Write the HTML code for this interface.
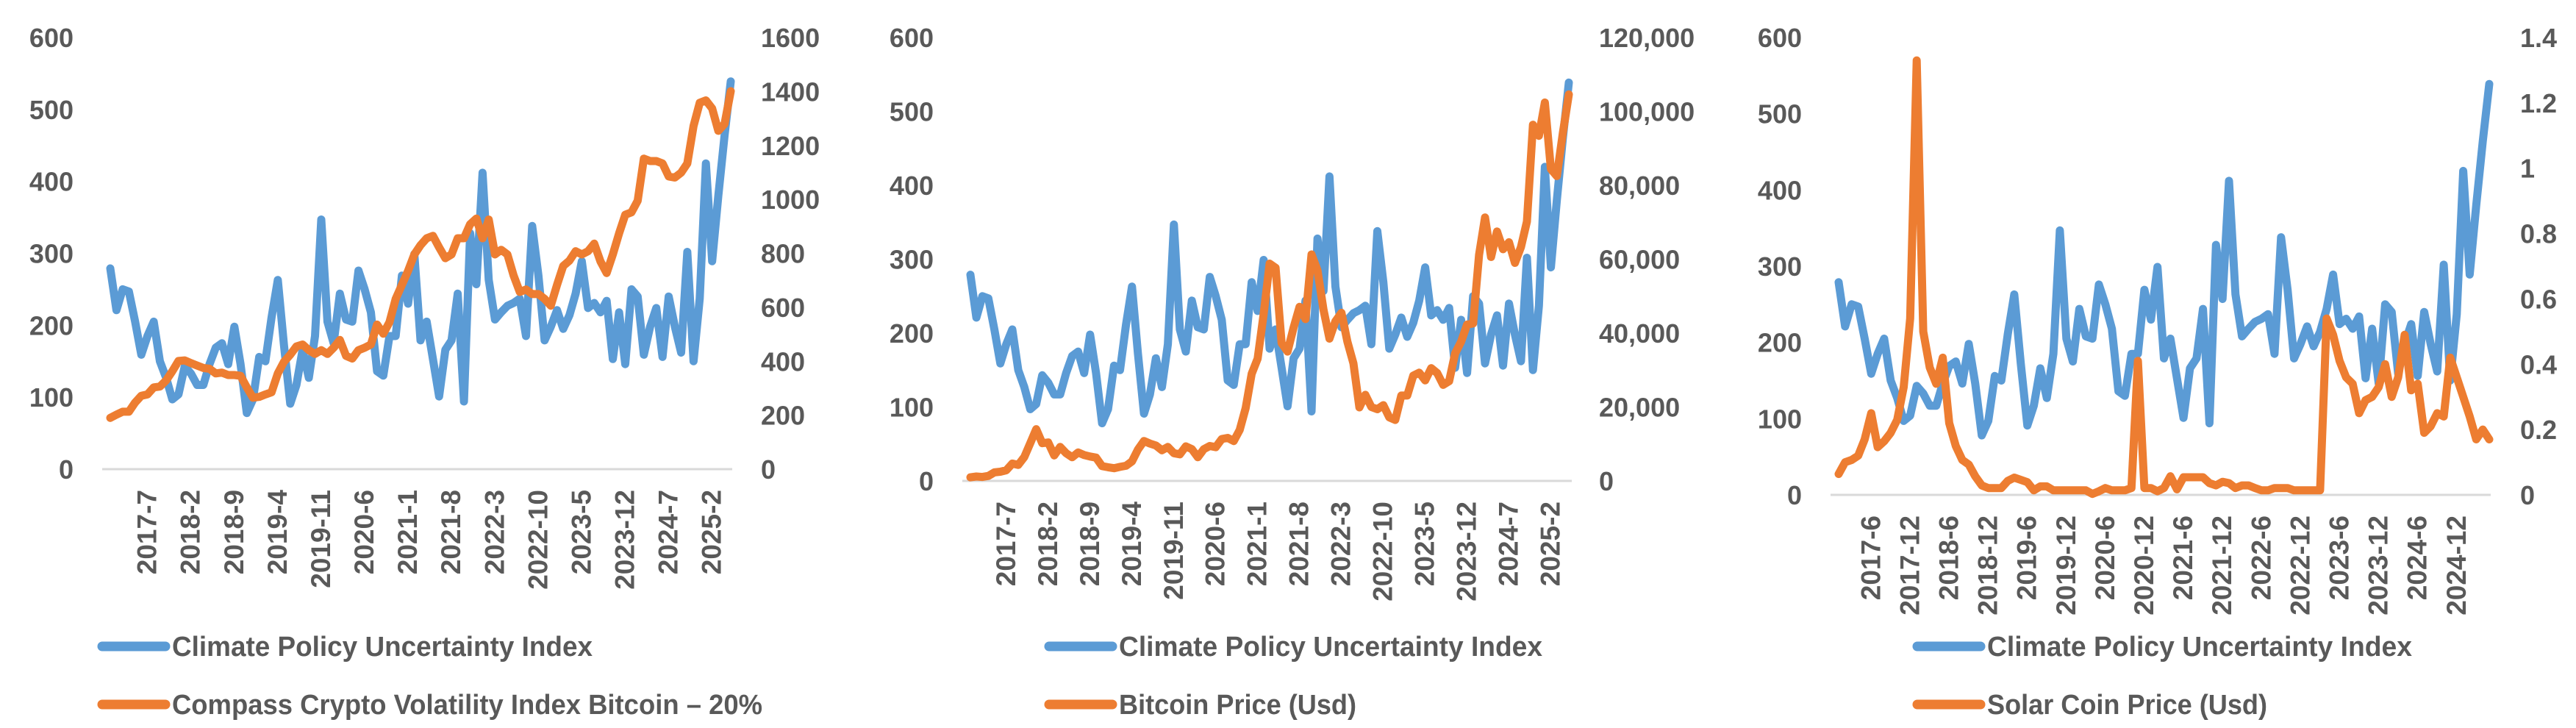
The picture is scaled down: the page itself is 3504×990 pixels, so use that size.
<!DOCTYPE html>
<html><head><meta charset="utf-8">
<style>
html,body{margin:0;padding:0;background:#fff;}
svg{display:block;}
text{font-family:"Liberation Sans",sans-serif;font-weight:bold;fill:#595959;}
</style></head>
<body>
<svg id="fig" width="3504" height="990" viewBox="0 0 3504 990" xmlns="http://www.w3.org/2000/svg"></svg>
<script>
const cpu=[279,221,250,247,205,159,185,205,150,127,97,104,143,133,117,117,146,169,175,146,198,146,78,97,156,150,211,263,172,91,117,166,127,185,347,205,175,244,208,205,276,250,218,136,130,185,185,269,230,299,179,205,153,101,166,179,244,94,328,257,412,263,208,218,227,231,237,185,338,269,179,198,221,195,214,244,289,224,231,218,234,153,218,146,250,240,159,198,224,156,240,198,162,302,150,237,425,289,380,464,539];
const ccv=[190,202,213,213,247,272,277,303,306,329,363,401,403,393,384,375,372,355,358,349,349,346,303,265,268,277,285,355,398,424,455,462,441,427,441,427,450,479,420,410,441,450,462,536,502,545,631,683,735,796,830,856,865,822,782,796,856,856,908,929,856,925,796,813,796,718,657,666,649,649,631,606,683,753,773,808,796,808,836,770,727,796,874,943,952,995,1151,1142,1142,1133,1085,1081,1099,1133,1272,1358,1367,1337,1254,1280,1401];
const btc=[970,1190,1080,1350,2300,2480,2880,4700,4340,6470,10200,14000,10200,10400,6900,9200,7500,6400,7700,7000,6600,6300,4000,3700,3450,3800,4100,5300,8500,10800,10100,9600,8300,9200,7500,7200,9350,8600,6400,8600,9450,9140,11350,11650,10780,13800,19700,29000,33100,45200,58800,57700,37300,35000,41500,47100,43800,61300,57000,46300,38500,43200,45500,37700,31800,19900,23300,20000,19400,20500,17200,16500,23100,23100,28500,29300,27200,30500,29200,26000,27000,34500,37700,42300,42600,61200,71300,60600,67500,62700,64600,59000,63300,70200,96400,93400,102400,84400,82500,94200,104600];
const slr=[0.064,0.10,0.107,0.12,0.17,0.25,0.146,0.164,0.19,0.23,0.33,0.54,1.33,0.50,0.39,0.34,0.42,0.22,0.15,0.107,0.093,0.057,0.029,0.021,0.021,0.021,0.043,0.053,0.046,0.039,0.014,0.026,0.026,0.014,0.014,0.014,0.014,0.014,0.014,0.003,0.011,0.021,0.014,0.014,0.014,0.021,0.41,0.021,0.021,0.011,0.021,0.057,0.017,0.054,0.054,0.054,0.054,0.036,0.029,0.04,0.036,0.021,0.029,0.029,0.021,0.014,0.014,0.021,0.021,0.021,0.014,0.014,0.014,0.014,0.014,0.54,0.49,0.41,0.36,0.34,0.25,0.29,0.30,0.33,0.40,0.30,0.36,0.49,0.32,0.34,0.19,0.21,0.25,0.24,0.42,0.36,0.30,0.24,0.17,0.20,0.17];
const leftTicks=[0,100,200,300,400,500,600];
const ticks1=[0,200,400,600,800,1000,1200,1400,1600];
const ticks2=[0,20000,40000,60000,80000,100000,120000];
const ticks3=[0,0.2,0.4,0.6,0.8,1,1.2,1.4];
const cats7=["2017-7","2018-2","2018-9","2019-4","2019-11","2020-6","2021-1","2021-8","2022-3","2022-10","2023-5","2023-12","2024-7","2025-2"];
const cats6=["2017-6","2017-12","2018-6","2018-12","2019-6","2019-12","2020-6","2020-12","2021-6","2021-12","2022-6","2022-12","2023-6","2023-12","2024-6","2024-12"];

const NS="http://www.w3.org/2000/svg";
const svg=document.getElementById('fig');
function mk(tag,attrs,parent){const e=document.createElementNS(NS,tag);for(const k in attrs)e.setAttribute(k,attrs[k]);(parent||svg).appendChild(e);return e;}

const charts=[
 {id:'chart-1',x0:150,dx:8.44,y0:638,yTop:51,axL:139,axR:996,lEnd:100,rStart:1035,rMax:1600,rTicks:ticks1,rFmt:v=>String(v),series2:ccv,cats:cats7,catStart:6,catStep:7,catTop:666,
  legX:133,legTextEnd1:806,legTextEnd2:1037,leg2:"Compass Crypto Volatility Index Bitcoin – 20%",s2name:'ccv-bitcoin-line'},
 {id:'chart-2',x0:1320,dx:8.14,y0:654,yTop:51,axL:1309,axR:2138,lEnd:1270,rStart:2175,rMax:120000,rTicks:ticks2,rFmt:v=>v.toLocaleString('en-US'),series2:btc,cats:cats7,catStart:6,catStep:7,catTop:682,
  legX:1421,legTextEnd1:2098,legTextEnd2:1845,leg2:"Bitcoin Price (Usd)",s2name:'bitcoin-price-line'},
 {id:'chart-3',x0:2501,dx:8.85,y0:673,yTop:51,axL:2490,axR:3388,lEnd:2451,rStart:3428,rMax:1.4,rTicks:ticks3,rFmt:v=>String(v),series2:slr,cats:cats6,catStart:5,catStep:6,catTop:701,
  legX:2602,legTextEnd1:3281,legTextEnd2:3084,leg2:"Solar Coin Price (Usd)",s2name:'solar-coin-price-line'}
];

charts.forEach(c=>{
  const g=mk('g',{});
  
  
  const yL=v=>c.y0-(v/600)*(c.y0-c.yTop);
  const yR=v=>c.y0-(v/c.rMax)*(c.y0-c.yTop);
  const xi=i=>c.x0+i*c.dx;
  const ax=mk('line',{x1:c.axL,x2:c.axR,y1:c.y0,y2:c.y0,stroke:'#d9d9d9','stroke-width':3},g);
  
  
  leftTicks.forEach(v=>{
    const t=mk('text',{x:c.lEnd,y:yL(v)+13,'text-anchor':'end','font-size':36},g);
    t.textContent=String(v);
    
    
  });
  c.rTicks.forEach(v=>{
    const t=mk('text',{x:c.rStart,y:yR(v)+13,'text-anchor':'start','font-size':36},g);
    t.textContent=c.rFmt(v);
    
    
  });
  c.cats.forEach((lab,k)=>{
    const x=xi(c.catStart+k*c.catStep)+12;
    const t=mk('text',{x:x,y:c.catTop,'text-anchor':'end','font-size':37,transform:`rotate(-90 ${x} ${c.catTop})`},g);
    t.setAttribute('x',x);t.setAttribute('y',c.catTop);
    t.textContent=lab;
    
    
  });
  const p1=mk('polyline',{points:cpu.map((v,i)=>xi(i).toFixed(1)+','+yL(v).toFixed(1)).join(' '),fill:'none',stroke:'#5b9bd5','stroke-width':11,'stroke-linejoin':'round','stroke-linecap':'round'},g);
  
  
  const p2=mk('polyline',{points:c.series2.map((v,i)=>xi(i).toFixed(1)+','+yR(v).toFixed(1)).join(' '),fill:'none',stroke:'#ed7d31','stroke-width':11,'stroke-linejoin':'round','stroke-linecap':'round'},g);
  
  
  [[879,'#5b9bd5',"Climate Policy Uncertainty Index",c.legTextEnd1],[958,'#ed7d31',c.leg2,c.legTextEnd2]].forEach((L,k)=>{
    const lg=mk('g',{},g);
    
    
    mk('line',{x1:c.legX+6,x2:c.legX+92,y1:L[0],y2:L[0],stroke:L[1],'stroke-width':13,'stroke-linecap':'round'},lg);
    const tx=c.legX+101;
    const t=mk('text',{x:tx,y:L[0]+13,'font-size':38,textLength:L[3]-tx,lengthAdjust:'spacingAndGlyphs'},lg);
    t.textContent=L[2];
  });
});
</script>
</body></html>
